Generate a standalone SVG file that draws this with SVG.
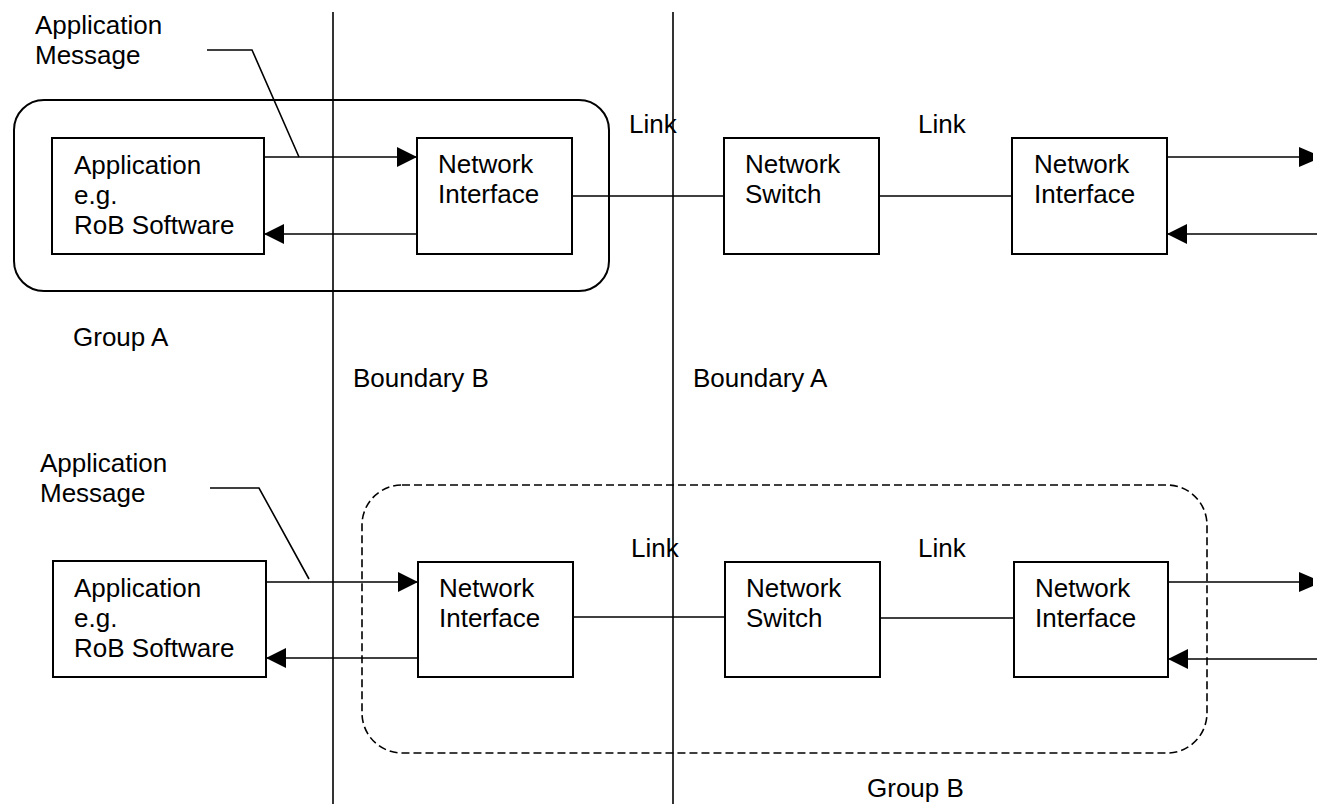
<svg xmlns="http://www.w3.org/2000/svg" width="1317" height="804" viewBox="0 0 1317 804">
<style>
text { font-family: "Liberation Sans", Arial, sans-serif; font-size: 26px; fill: #000; }
.box { fill: #fff; stroke: #000; stroke-width: 2; }
.ln { fill: none; stroke: #000; stroke-width: 1.6; }
.grpA { fill: none; stroke: #000; stroke-width: 2; }
.grpB { fill: none; stroke: #000; stroke-width: 1.6; stroke-dasharray: 8 4; }
.arr { fill: none; stroke: #000; stroke-width: 1.6; marker-end: url(#ah); }
</style>
<defs>
<marker id="ah" markerWidth="20" markerHeight="20" refX="20" refY="10" orient="auto" markerUnits="userSpaceOnUse">
<path d="M0,0 L20,10 L0,20 z" fill="#000"/>
</marker>
</defs>
<rect width="1317" height="804" fill="#fff"/>

<!-- groups -->
<g id="groupA">
<rect class="grpA" x="14" y="100" width="595" height="191" rx="30" ry="30"/>
<text x="73" y="346">Group A</text>
</g>
<g id="groupB">
<rect class="grpB" x="362" y="485" width="845" height="268" rx="40" ry="40"/>
<text x="867" y="797">Group B</text>
</g>

<!-- boundaries -->
<g id="boundaryB">
<line class="ln" x1="333" y1="12" x2="333" y2="804"/>
<text x="353" y="387">Boundary B</text>
</g>
<g id="boundaryA">
<line class="ln" x1="673" y1="12" x2="673" y2="804"/>
<text x="693" y="387">Boundary A</text>
</g>

<!-- connectors -->
<g id="connectors">
<!-- top row -->
<line class="arr" x1="264" y1="157" x2="417" y2="157"/>
<line class="arr" x1="417" y1="234" x2="264" y2="234"/>
<line class="ln" x1="572" y1="196" x2="724" y2="196"/>
<line class="ln" x1="879" y1="196" x2="1012" y2="196"/>
<line class="ln" x1="1167" y1="157" x2="1300" y2="157"/>
<polygon points="1299,147 1313,153 1313,161 1299,167" fill="#000"/>
<line class="arr" x1="1317" y1="234" x2="1167" y2="234"/>
<polyline class="ln" points="207,50 252,50 299,157"/>
<!-- bottom row -->
<line class="arr" x1="266" y1="582" x2="418" y2="582"/>
<line class="arr" x1="418" y1="658" x2="266" y2="658"/>
<line class="ln" x1="569" y1="617" x2="725" y2="617"/>
<line class="ln" x1="880" y1="618" x2="1014" y2="618"/>
<line class="ln" x1="1168" y1="582" x2="1300" y2="582"/>
<polygon points="1299,572 1313,578 1313,586 1299,592" fill="#000"/>
<line class="arr" x1="1317" y1="659" x2="1168" y2="659"/>
<polyline class="ln" points="210,488 259,488 309,579"/>
</g>

<!-- labels -->
<g id="msgTop"><text x="35" y="34">Application</text><text x="35" y="64">Message</text></g>
<g id="msgBottom"><text x="40" y="472">Application</text><text x="40" y="502">Message</text></g>
<g id="linkTop1"><text x="629" y="133">Link</text></g>
<g id="linkTop2"><text x="918" y="133">Link</text></g>
<g id="linkBot1"><text x="631" y="557">Link</text></g>
<g id="linkBot2"><text x="918" y="557">Link</text></g>

<!-- top nodes -->
<g id="appTop">
<rect class="box" x="52" y="138" width="212" height="116"/>
<text x="74" y="174">Application</text><text x="74" y="204">e.g.</text><text x="74" y="234">RoB Software</text>
</g>
<g id="niTop1">
<rect class="box" x="417" y="138" width="155" height="116"/>
<text x="438" y="173">Network</text><text x="438" y="203">Interface</text>
</g>
<g id="swTop">
<rect class="box" x="724" y="138" width="155" height="116"/>
<text x="745" y="173">Network</text><text x="745" y="203">Switch</text>
</g>
<g id="niTop2">
<rect class="box" x="1012" y="138" width="155" height="116"/>
<text x="1034" y="173">Network</text><text x="1034" y="203">Interface</text>
</g>

<!-- bottom nodes -->
<g id="appBot">
<rect class="box" x="53" y="561" width="213" height="116"/>
<text x="74" y="597">Application</text><text x="74" y="627">e.g.</text><text x="74" y="657">RoB Software</text>
</g>
<g id="niBot1">
<rect class="box" x="418" y="562" width="155" height="115"/>
<text x="439" y="597">Network</text><text x="439" y="627">Interface</text>
</g>
<g id="swBot">
<rect class="box" x="725" y="562" width="155" height="115"/>
<text x="746" y="597">Network</text><text x="746" y="627">Switch</text>
</g>
<g id="niBot2">
<rect class="box" x="1014" y="562" width="154" height="115"/>
<text x="1035" y="597">Network</text><text x="1035" y="627">Interface</text>
</g>
</svg>
